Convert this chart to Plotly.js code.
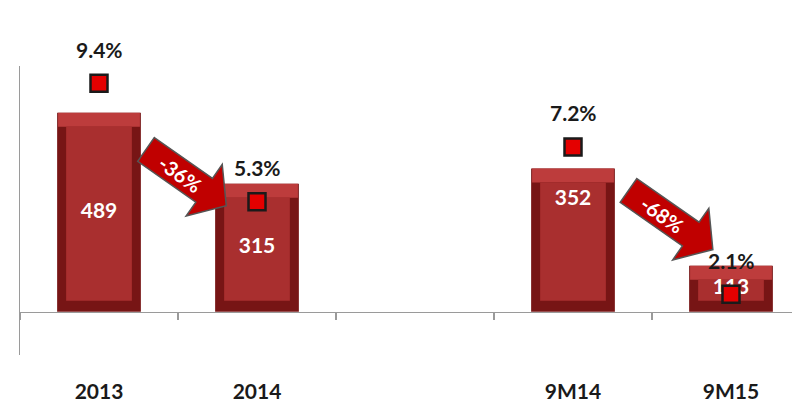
<!DOCTYPE html>
<html>
<head>
<meta charset="utf-8">
<script src="https://cdn.plot.ly/plotly-3.0.1.min.js"></script>
<style>
  html, body { margin: 0; padding: 0; background: #fff; }
  #chart { width: 792px; height: 406px; }
</style>
</head>
<body>
<div id="chart"></div>
<script>
// ---- data ----
const categories = ['2013', '2014', ' ', '9M14', '9M15'];
const barCats = ['2013', '2014', '9M14', '9M15'];
const values = [489, 315, 352, 113];
const pctValues = [9.4, 5.3, 7.2, 2.1];
const pctLabels = ['9.4%', '5.3%', '7.2%', '2.1%'];
const changeLabels = ['-36%', '-68%'];

// ---- layout geometry ----
const W = 792, H = 406;
const M = { l: 20, r: 0, t: 66, b: 51 };
const PW = W - M.l - M.r, PH = H - M.t - M.b;
const yRange = [-106, 604];
const y2Range = [0, 10];
const xRange = [-0.5, -0.5 + PW / 158];
const pxPerUnit = PH / (yRange[1] - yRange[0]);

const FONT = 'Lato, "Open Sans", "DejaVu Sans", sans-serif';
const barWidth = 0.53;
const insetX = 9 / 158;           // category units
const insetTop = 14 / pxPerUnit;  // value units
const insetBot = 11 / pxPerUnit;
const labelLiftPx = [0, 0, 40, 0];

const traces = [
  { // bar body (edge colour)
    type: 'bar', x: barCats, y: values, width: barWidth,
    marker: { color: '#771515', line: { width: 0 } }, hoverinfo: 'skip'
  },
  { // top bevel
    type: 'bar', x: barCats, y: values.map(() => insetTop),
    base: values.map(v => v - insetTop), width: barWidth - 0.012,
    marker: { color: '#bd3c3c', line: { width: 0 } }, hoverinfo: 'skip'
  },
  { // inner face
    type: 'bar', x: barCats,
    y: values.map(v => Math.max(v - insetTop - insetBot, 0)),
    base: values.map(() => insetBot), width: barWidth - 2 * insetX,
    marker: { color: '#a92f2f', line: { width: 0 } }, hoverinfo: 'skip'
  },
  { // value labels
    type: 'scatter', mode: 'text', x: barCats,
    y: values.map((v, i) => v / 2 + labelLiftPx[i] / pxPerUnit),
    text: values.map(String), textposition: 'middle center',
    textfont: { family: FONT, size: 21, color: '#ffffff', weight: 'bold' },
    hoverinfo: 'skip'
  },
  { // margin markers
    type: 'scatter', mode: 'markers', x: barCats, y: pctValues, yaxis: 'y2',
    marker: { symbol: 'square', size: 17, color: '#e40000',
              line: { color: '#1a1a1a', width: 2.5 } },
    hoverinfo: 'skip'
  }
];

// pixel -> paper
function px2paper(px, py) {
  return [(px - M.l) / PW, 1 - (py - M.t) / PH];
}
function arrowPath(cx, cy, len, angleDeg) {
  const w = 29, hw = 63, hl = 27;
  const a = angleDeg * Math.PI / 180;
  const ux = Math.cos(a), uy = Math.sin(a);
  const vx = -Math.sin(a), vy = Math.cos(a);
  const local = [[0, -w / 2], [len - hl, -w / 2], [len - hl, -hw / 2], [len, 0],
                 [len - hl, hw / 2], [len - hl, w / 2], [0, w / 2]];
  const pts = local.map(([u, v]) => px2paper(cx + u * ux + v * vx, cy + u * uy + v * vy));
  return 'M ' + pts.map(p => p[0].toFixed(5) + ',' + p[1].toFixed(5)).join(' L ') + ' Z';
}
const arrows = [
  { cx: 146, cy: 149.5, len: 98, angle: 35 },
  { cx: 628.5, cy: 190.5, len: 103, angle: 35 }
];

const shapes = arrows.map(a => ({
  type: 'path', xref: 'paper', yref: 'paper', layer: 'above',
  path: arrowPath(a.cx, a.cy, a.len, a.angle),
  fillcolor: '#c00000', line: { color: '#555555', width: 1.5 }
}));

const annotations = [];
barCats.forEach((c, i) => {
  annotations.push({
    x: categories.indexOf(c), y: pctValues[i], xref: 'x', yref: 'y2', yshift: 34,
    text: pctLabels[i], showarrow: false,
    font: { family: FONT, size: 21, color: '#1a1a1a', weight: 'bold' }
  });
});
arrows.forEach((a, i) => {
  const rad = a.angle * Math.PI / 180;
  const p = px2paper(a.cx + 42 * Math.cos(rad), a.cy + 42 * Math.sin(rad));
  annotations.push({
    x: p[0], y: p[1], xref: 'paper', yref: 'paper', xanchor: 'center', yanchor: 'middle',
    text: changeLabels[i], showarrow: false, textangle: a.angle,
    font: { family: FONT, size: 20, color: '#ffffff', weight: 'bold' }
  });
});

const layout = {
  width: W, height: H,
  margin: M,
  paper_bgcolor: '#ffffff', plot_bgcolor: '#ffffff',
  barmode: 'overlay',
  showlegend: false,
  xaxis: {
    type: 'category', categoryorder: 'array', categoryarray: categories,
    range: xRange, anchor: 'free',
    position: (0 - yRange[0]) / (yRange[1] - yRange[0]),
    showline: true, linecolor: '#9a9a9a', linewidth: 1.5,
    ticks: 'outside', ticklen: 7, tickwidth: 1.5, tickcolor: '#9a9a9a',
    tickson: 'boundaries', ticklabelstandoff: 60,
    showgrid: false, zeroline: false, automargin: false, fixedrange: true,
    tickfont: { family: FONT, size: 21, color: '#1a1a1a', weight: 'bold' }
  },
  yaxis: {
    range: yRange, showline: true, linecolor: '#9a9a9a', linewidth: 1.5,
    showticklabels: false, ticks: '', showgrid: false, zeroline: false,
    automargin: false, fixedrange: true
  },
  yaxis2: {
    range: y2Range, overlaying: 'y', visible: false, showgrid: false,
    zeroline: false, fixedrange: true
  },
  shapes: shapes,
  annotations: annotations
};

Plotly.newPlot('chart', traces, layout, { displayModeBar: false, staticPlot: true });
</script>
</body>
</html>
